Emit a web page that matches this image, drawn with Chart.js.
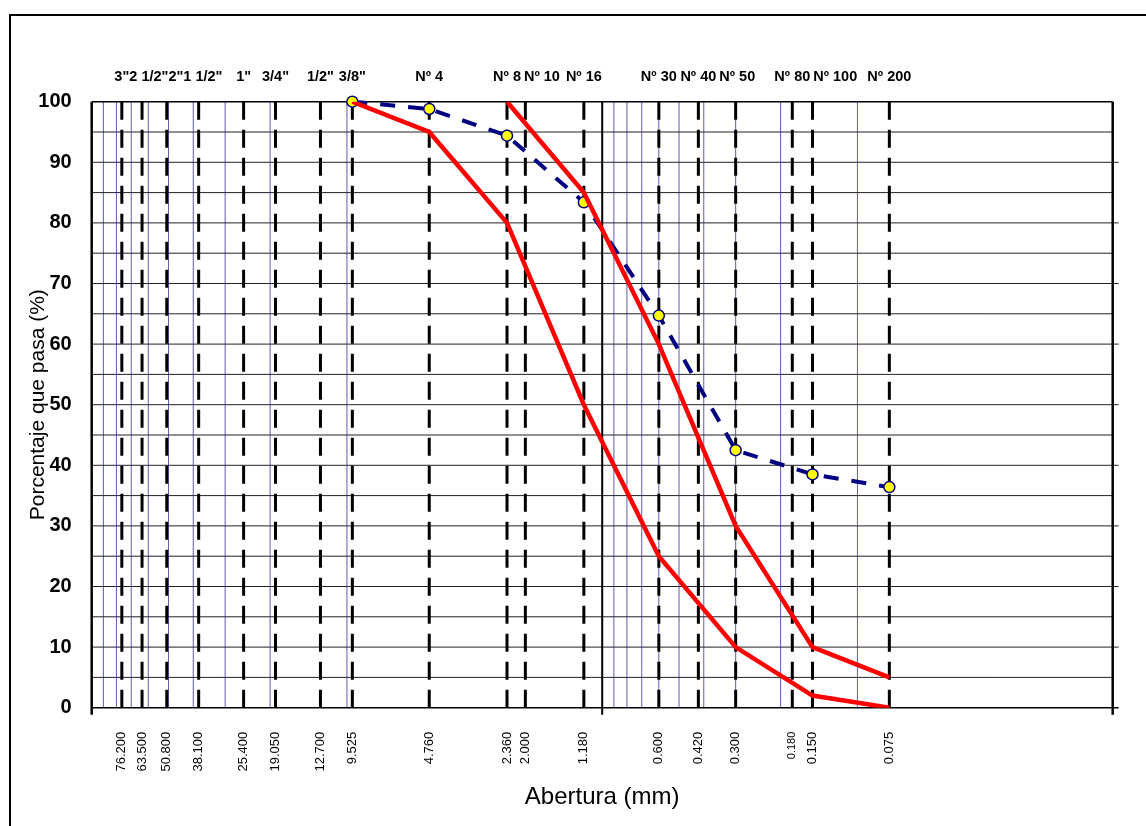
<!DOCTYPE html>
<html>
<head>
<meta charset="utf-8">
<script src="https://cdn.jsdelivr.net/npm/chart.js@4.4.0/dist/chart.umd.min.js"></script>
<style>
html, body { margin: 0; padding: 0; background: #fff; }
</style>
</head>
<body>
<canvas id="myChart" width="1146" height="826"></canvas>
<script>
var FONT = '"Liberation Sans", Arial, sans-serif';

// sieve openings (mm) and names
var sieveSizes = [76.2, 63.5, 50.8, 38.1, 25.4, 19.05, 12.7, 9.525, 4.76, 2.36, 2.0, 1.18, 0.6, 0.42, 0.3, 0.18, 0.15, 0.075];
var sieveNames = ['3"', '2 1/2"', '2"', '1 1/2"', '1"', '3/4"', '1/2"', '3/8"', 'Nº 4', 'Nº 8', 'Nº 10', 'Nº 16', 'Nº 30', 'Nº 40', 'Nº 50', 'Nº 80', 'Nº 100', 'Nº 200'];

// sample curve
var sampleSizes = [9.525, 4.76, 2.36, 1.18, 0.6, 0.3, 0.15, 0.075];
var samplePass = [100, 98.8, 94.4, 83.4, 64.7, 42.5, 38.5, 36.4];

// spec limits
var lowerSizes = [9.525, 4.76, 2.36, 1.18, 0.6, 0.3, 0.15, 0.075];
var lowerPass = [100, 95, 80, 50, 25, 10, 2, 0];
var upperSizes = [2.36, 1.18, 0.6, 0.3, 0.15, 0.075];
var upperPass = [100, 85, 60, 30, 10, 5];

function pts(xs, ys) {
    return xs.map(function(x, i) { return { x: x, y: ys[i] }; });
}

function line(ctx, x1, y1, x2, y2) {
    ctx.beginPath();
    ctx.moveTo(x1, y1);
    ctx.lineTo(x2, y2);
    ctx.stroke();
}

var gradingGrid = {
    id: 'gradingGrid',
    beforeDatasetsDraw: function(chart) {
        var ctx = chart.ctx, a = chart.chartArea;
        var xs = chart.scales.x, ys = chart.scales.y;
        ctx.save();

        // horizontal lines every 5 %
        ctx.strokeStyle = '#222';
        ctx.lineWidth = 1;
        for (var v = 5; v < 100; v += 5) {
            var y = ys.getPixelForValue(v);
            line(ctx, a.left, y, a.right + (v % 10 === 0 ? 6 : 0), y);
        }

        // thin blue minor lines
        ctx.strokeStyle = 'rgba(40,40,150,0.75)';
        [10, 0.1].forEach(function(base) {
            for (var k = 1; k <= 9; k++) {
                var x = xs.getPixelForValue(base * k);
                line(ctx, x, a.top, x, a.bottom);
            }
        });

        // black solid verticals
        ctx.strokeStyle = '#000';
        ctx.lineWidth = 2;
        var x1 = xs.getPixelForValue(1);
        line(ctx, x1, a.top, x1, a.bottom + 7);
        ctx.lineWidth = 2.5;
        line(ctx, a.left, a.top, a.left, a.bottom + 7);
        line(ctx, a.right, a.top, a.right, a.bottom + 7);
        ctx.lineWidth = 1.5;
        line(ctx, a.left, a.top, a.right, a.top);
        line(ctx, a.left, a.bottom, a.right + 6, a.bottom);

        // dashed sieve lines
        ctx.lineWidth = 3;
        ctx.setLineDash([18, 10]);
        sieveSizes.forEach(function(s) {
            var x = xs.getPixelForValue(s);
            line(ctx, x, a.top, x, a.bottom);
        });
        ctx.restore();
    },
    afterDraw: function(chart) {
        var ctx = chart.ctx, xs = chart.scales.x;
        ctx.save();
        ctx.fillStyle = '#000';
        ctx.font = 'bold 14.5px ' + FONT;
        ctx.textAlign = 'left';
        ctx.textBaseline = 'alphabetic';
        var prevRight = -Infinity;
        sieveSizes.forEach(function(s, i) {
            var name = sieveNames[i];
            var gap = name.indexOf('Nº') === 0 ? 3 : 0;
            var w = ctx.measureText(name).width;
            var left = xs.getPixelForValue(s) - w / 2;
            if (left < prevRight + gap) left = prevRight + gap;
            ctx.fillText(name, left, 80.5);
            prevRight = left + w;
        });
        // outer frame
        ctx.strokeStyle = '#000';
        ctx.lineWidth = 2;
        ctx.strokeRect(10, 15, 1160, 840);
        ctx.restore();
    }
};

var ctx = document.getElementById('myChart').getContext('2d');

var myChart = new Chart(ctx, {
    type: 'line',
    data: {
        datasets: [
            {
                label: 'Límite superior',
                data: pts(upperSizes, upperPass),
                borderColor: '#ff0000',
                borderWidth: 4.5,
                pointRadius: 0,
                tension: 0
            },
            {
                label: 'Límite inferior',
                data: pts(lowerSizes, lowerPass),
                borderColor: '#ff0000',
                borderWidth: 4.5,
                pointRadius: 0,
                tension: 0
            },
            {
                label: 'Muestra',
                data: pts(sampleSizes, samplePass),
                borderColor: '#000080',
                borderWidth: 4,
                borderDash: [15, 13],
                pointRadius: 5.5,
                pointBackgroundColor: '#ffff00',
                pointBorderColor: '#000080',
                pointBorderWidth: 1.5,
                tension: 0,
                clip: false
            }
        ]
    },
    options: {
        responsive: false,
        animation: false,
        layout: { padding: { top: 101.7, right: 33.3, left: 0, bottom: 0 } },
        plugins: {
            legend: { display: false },
            tooltip: { enabled: false }
        },
        scales: {
            x: {
                type: 'logarithmic',
                reverse: true,
                min: 0.01,
                max: 100,
                afterBuildTicks: function(scale) {
                    scale.ticks = sieveSizes.map(function(v) { return { value: v }; });
                },
                afterFit: function(scale) { scale.height = 118.3; },
                ticks: {
                    autoSkip: false,
                    minRotation: 90,
                    maxRotation: 90,
                    padding: 24,
                    color: '#000',
                    font: function(c) {
                        return { family: FONT, size: (c.tick && c.tick.value === 0.18) ? 11 : 13 };
                    },
                    callback: function(v) { return Number(v).toFixed(3); }
                },
                grid: { display: false, drawTicks: false },
                border: { display: false },
                title: {
                    display: true,
                    text: 'Abertura (mm)',
                    color: '#000',
                    font: { family: FONT, size: 24 },
                    padding: { top: 0, bottom: 14 }
                }
            },
            y: {
                min: 0,
                max: 100,
                afterFit: function(scale) { scale.width = 91.7; },
                ticks: {
                    stepSize: 10,
                    padding: 20,
                    color: '#000',
                    font: { family: FONT, size: 20, weight: 'bold' }
                },
                grid: { display: false, drawTicks: false },
                border: { display: false },
                title: {
                    display: true,
                    text: 'Porcentaje que pasa (%)',
                    color: '#000',
                    font: { family: FONT, size: 21 },
                    padding: { top: 26, bottom: 0 }
                }
            }
        }
    },
    plugins: [gradingGrid]
});
</script>
</body>
</html>
